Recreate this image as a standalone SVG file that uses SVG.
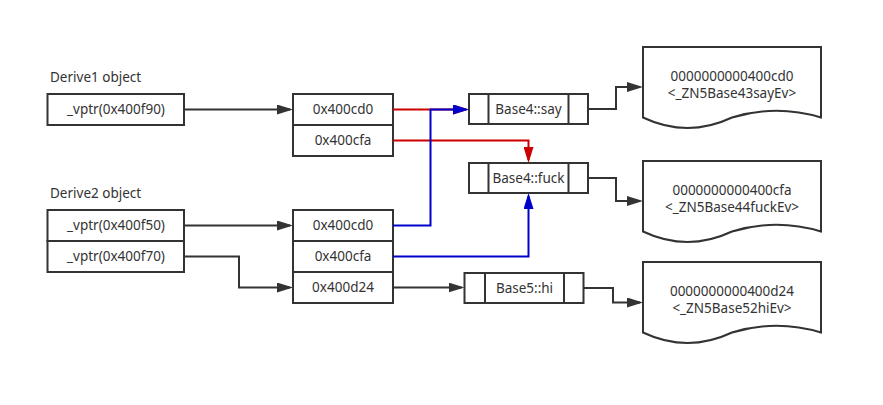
<svg xmlns="http://www.w3.org/2000/svg" width="883" height="405" viewBox="0 0 883 405">
<style>
.box{fill:#ffffff;stroke:#333333;stroke-width:2}
.ln{fill:none;stroke:#333333;stroke-width:2}
.t{font-family:"Noto Sans","Liberation Sans",sans-serif;font-size:13.5px;fill:#333333;text-anchor:middle}
.lbl{font-family:"Noto Sans","Liberation Sans",sans-serif;font-size:13.5px;fill:#333333}
.e{fill:none;stroke-width:2}
.dark{stroke:#333333}
.red{stroke:#CC0000}
.blue{stroke:#0000CC}
</style>
<defs>
<marker id="ad" markerUnits="userSpaceOnUse" markerWidth="16" markerHeight="10" viewBox="0 0 16 10" refX="13" refY="5" orient="auto"><path d="M0,0 L16,5 L0,10 Z" fill="#333333"/></marker>
<marker id="ar" markerUnits="userSpaceOnUse" markerWidth="16" markerHeight="10" viewBox="0 0 16 10" refX="13" refY="5" orient="auto"><path d="M0,0 L16,5 L0,10 Z" fill="#CC0000"/></marker>
<marker id="ab" markerUnits="userSpaceOnUse" markerWidth="16" markerHeight="10" viewBox="0 0 16 10" refX="13" refY="5" orient="auto"><path d="M0,0 L16,5 L0,10 Z" fill="#0000CC"/></marker>
</defs>
<rect width="883" height="405" fill="#ffffff"/>

<g id="derive1">
<text class="lbl" x="50" y="82">Derive1 object</text>
<rect class="box" x="47.5" y="94" width="136.5" height="31"/>
<text class="t" x="116" y="114">_vptr(0x400f90)</text>
</g>

<g id="derive2">
<text class="lbl" x="50" y="198">Derive2 object</text>
<rect class="box" x="47.5" y="210" width="136.5" height="31"/>
<text class="t" x="116" y="230">_vptr(0x400f50)</text>
<rect class="box" x="47.5" y="241" width="136.5" height="31"/>
<text class="t" x="116" y="261">_vptr(0x400f70)</text>
</g>

<g id="vtable1">
<rect class="box" x="293" y="94" width="100" height="31"/>
<text class="t" x="343" y="114">0x400cd0</text>
<rect class="box" x="293" y="125" width="100" height="31"/>
<text class="t" x="343" y="145">0x400cfa</text>
</g>

<g id="vtable2">
<rect class="box" x="293" y="210" width="100" height="31"/>
<text class="t" x="343" y="230">0x400cd0</text>
<rect class="box" x="293" y="241" width="100" height="31"/>
<text class="t" x="343" y="261">0x400cfa</text>
<rect class="box" x="293" y="272" width="100" height="31"/>
<text class="t" x="343" y="292">0x400d24</text>
</g>

<g id="base4say">
<rect class="box" x="469" y="94" width="119" height="30"/>
<line class="ln" x1="488.5" y1="94" x2="488.5" y2="124"/>
<line class="ln" x1="568.5" y1="94" x2="568.5" y2="124"/>
<text class="t" x="528.5" y="113.5">Base4::say</text>
</g>

<g id="base4fuck">
<rect class="box" x="469" y="163" width="119" height="30"/>
<line class="ln" x1="488.5" y1="163" x2="488.5" y2="193"/>
<line class="ln" x1="568.5" y1="163" x2="568.5" y2="193"/>
<text class="t" x="528.5" y="182.5">Base4::fuck</text>
</g>

<g id="base5hi">
<rect class="box" x="464.5" y="273" width="119" height="30"/>
<line class="ln" x1="485" y1="273" x2="485" y2="303"/>
<line class="ln" x1="564" y1="273" x2="564" y2="303"/>
<text class="t" x="524.5" y="292.5">Base5::hi</text>
</g>

<g id="doc1">
<path class="box" d="M643,47 H821 V117.5 Q776.5,104 732,117.5 Q687.5,138.5 643,117.5 Z"/>
<text class="t" x="732" y="81">0000000000400cd0</text>
<text class="t" x="732" y="97.5">&lt;_ZN5Base43sayEv&gt;</text>
</g>

<g id="doc2">
<path class="box" d="M643,161 H821 V231.5 Q776.5,218 732,231.5 Q687.5,252.5 643,231.5 Z"/>
<text class="t" x="732" y="195">0000000000400cfa</text>
<text class="t" x="732" y="211.5">&lt;_ZN5Base44fuckEv&gt;</text>
</g>

<g id="doc3">
<path class="box" d="M643,262 H821 V332.5 Q776.5,319 732,332.5 Q687.5,353.5 643,332.5 Z"/>
<text class="t" x="732" y="296">0000000000400d24</text>
<text class="t" x="732" y="312.5">&lt;_ZN5Base52hiEv&gt;</text>
</g>

<g id="connectors">
<path class="e dark" d="M184,109.5 H290" marker-end="url(#ad)"/>
<path class="e dark" d="M184,225.5 H290" marker-end="url(#ad)"/>
<path class="e dark" d="M184,256.5 H239 V287.5 H290" marker-end="url(#ad)"/>
<path class="e dark" d="M393,287.5 H461.5" marker-end="url(#ad)"/>
<path class="e dark" d="M588,109 H616 V87 H640" marker-end="url(#ad)"/>
<path class="e dark" d="M588,178 H616 V201 H640" marker-end="url(#ad)"/>
<path class="e dark" d="M583.5,288 H613 V302.5 H640" marker-end="url(#ad)"/>
<path class="e red" d="M393,109.5 H466" marker-end="url(#ar)"/>
<path class="e red" d="M393,140.5 H528.5 V160" marker-end="url(#ar)"/>
<path class="e blue" d="M393,225.5 H430.5 V109.5 H466" marker-end="url(#ab)"/>
<path class="e blue" d="M393,256.5 H528.5 V196" marker-end="url(#ab)"/>
</g>
</svg>
